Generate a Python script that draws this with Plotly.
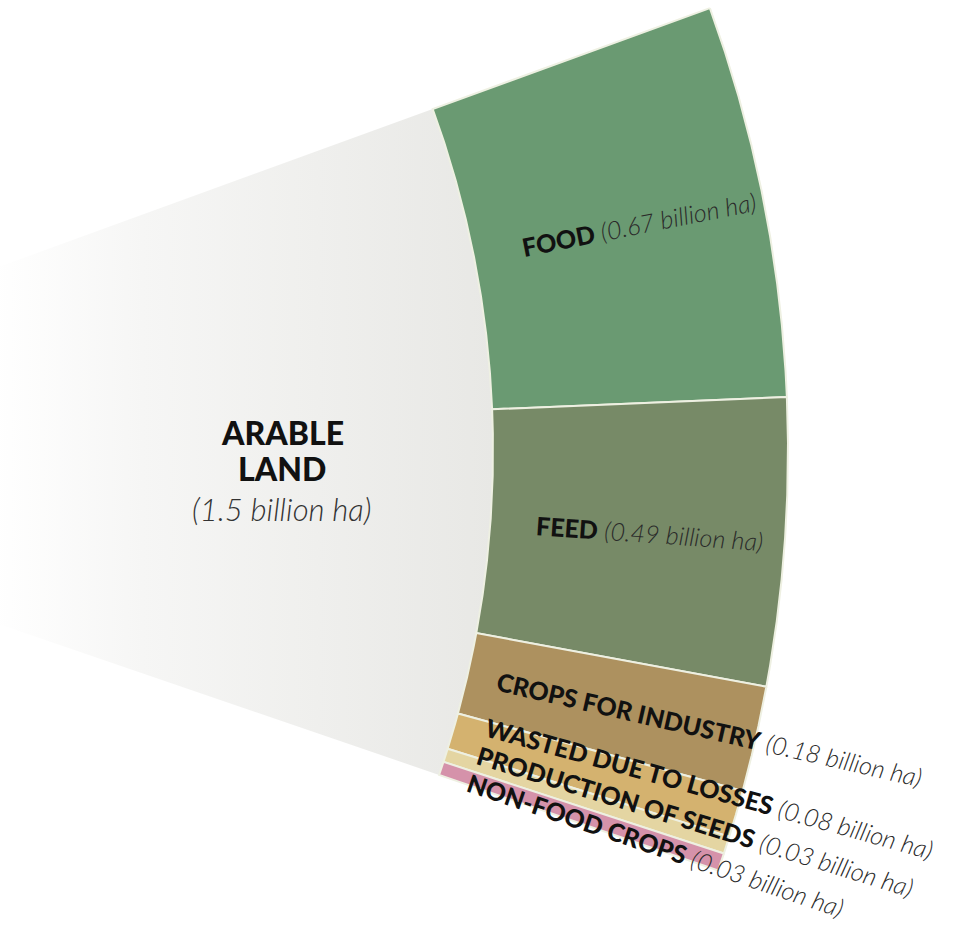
import numpy as np
import plotly.graph_objects as go

# ---------------- data ----------------
categories = ["FOOD", "FEED", "CROPS FOR INDUSTRY", "WASTED DUE TO LOSSES",
              "PRODUCTION OF SEEDS", "NON-FOOD CROPS"]
values = [0.67, 0.49, 0.18, 0.08, 0.03, 0.03]          # billion ha
total_name = ["ARABLE", "LAND"]
total_value = 1.5                                     # billion ha
unit = "billion ha"

# ---------------- styles / layout ----------------
colors = ["#6a9a72", "#778a67", "#ad915f", "#d4b26f", "#e4d5a2", "#d592aa"]
R_IN, R_OUT = 1.0, 1.295          # inner / outer radius of the ring
TOP, BOTTOM = 20.0, -18.9         # angular extent of the fan (degrees, math convention)
label_r = [1.168, 1.16, 1.248, 1.262, 1.258, 1.228]   # radial centre of each label
MIN_GAP = 1.6                     # min angular gap between labels (deg)
LAST_SHIFT = 0.2                  # push the bottom label slightly outward (deg)
BOLD_SIZE, ITAL_SIZE = 25, 25

span = TOP - BOTTOM


def arc(r, a0, a1, n=240):
    t = np.radians(np.linspace(a0, a1, n))
    return r * np.cos(t), r * np.sin(t)


fig = go.Figure()

# inner sector: arable land (gradient fill)
ax_, ay_ = arc(R_IN, TOP, BOTTOM)
fig.add_trace(go.Scatter(
    x=np.r_[0.0, ax_, 0.0], y=np.r_[0.0, ay_, 0.0],
    fill="toself", mode="none",
    fillgradient=dict(type="horizontal",
                      colorscale=[[0, "#ffffff"], [0.3, "#f6f6f5"], [1, "#e8e8e5"]],
                      start=0.5, stop=1.0),
    hoverinfo="skip", showlegend=False))

# outer ring segments, proportional to the values
vals = np.array(values, dtype=float)
cum = np.concatenate([[0.0], np.cumsum(vals)]) / vals.sum()
edges = TOP - span * cum
for i, cat in enumerate(categories):
    a0, a1 = edges[i], edges[i + 1]
    ox, oy = arc(R_OUT, a0, a1)
    ix, iy = arc(R_IN, a1, a0)
    fig.add_trace(go.Scatter(
        x=np.r_[ox, ix, ox[0]], y=np.r_[oy, iy, oy[0]],
        fill="toself", fillcolor=colors[i], mode="lines",
        line=dict(color="#eef0e2", width=2),
        name=cat, hoverinfo="name", showlegend=False))

# label angles: segment mid angles, spread so that labels don't collide
mids = (edges[:-1] + edges[1:]) / 2.0
lab = list(mids)
lab[-1] -= LAST_SHIFT
for i in range(len(lab) - 2, -1, -1):
    lab[i] = max(lab[i], lab[i + 1] + MIN_GAP)

for i, cat in enumerate(categories):
    phi = np.radians(lab[i])
    txt = (f"<span style='font-weight:900;font-size:{BOLD_SIZE}px'>{cat}</span> "
           f"<span style='font-style:italic;font-weight:300;font-size:{ITAL_SIZE}px;color:#2a2a2a'>"
           f"({values[i]:.2f} {unit})</span>")
    fig.add_annotation(
        x=label_r[i] * np.cos(phi), y=label_r[i] * np.sin(phi),
        xref="x", yref="y", text=txt, showarrow=False,
        textangle=-lab[i], xanchor="center", yanchor="middle",
        font=dict(family="Lato", size=BOLD_SIZE, color="#111111"))

# centre label (three lines positioned individually)
cx = 0.789
center_lines = [
    (total_name[0], 0.019, dict(family="Lato", size=32, color="#111111", weight=900)),
    (total_name[1], -0.017, dict(family="Lato", size=32, color="#111111", weight=900)),
    (f"<i>({total_value} {unit})</i>", -0.058,
     dict(family="Lato", size=31, color="#333333", weight=300)),
]
for t, yy, f in center_lines:
    fig.add_annotation(x=cx, y=yy, xref="x", yref="y", showarrow=False,
                       xanchor="center", yanchor="middle", text=t, font=f)

fig.update_layout(
    width=960, height=929,
    margin=dict(l=0, r=0, t=0, b=0),
    paper_bgcolor="white", plot_bgcolor="white",
    xaxis=dict(range=[0.507, 1.467], visible=False, fixedrange=True),
    yaxis=dict(range=[-0.478, 0.451], visible=False, fixedrange=True),
    showlegend=False,
)

fig.write_html("out.html")
